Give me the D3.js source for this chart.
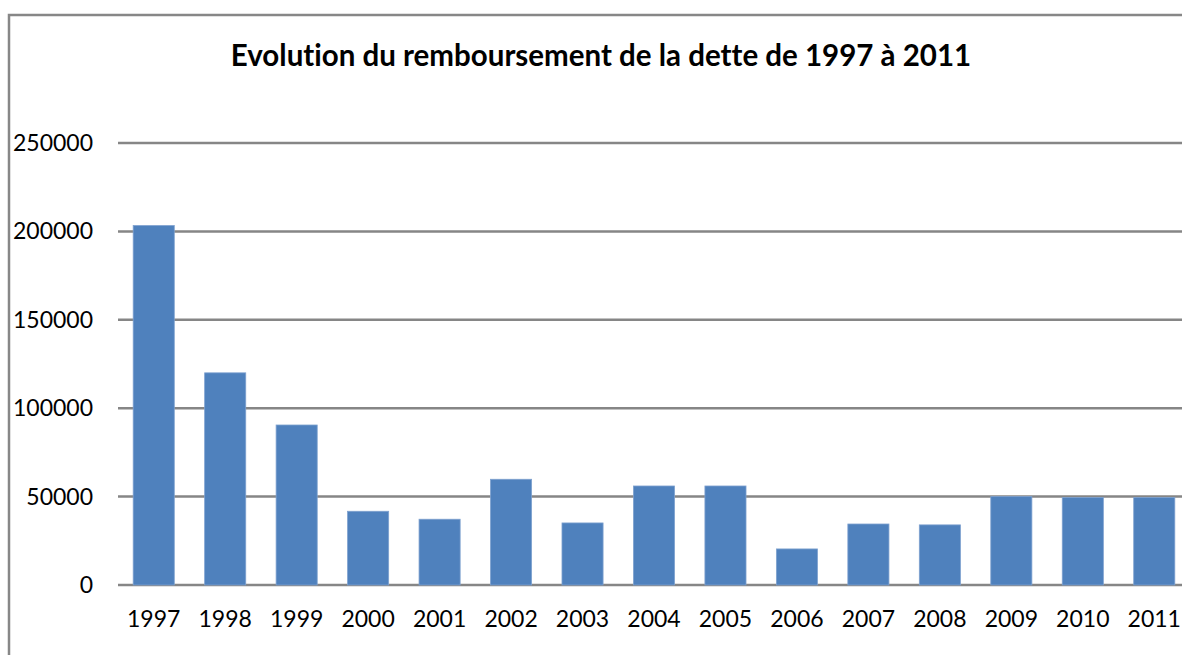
<!DOCTYPE html>
<html>
<head>
<meta charset="utf-8">
<script src="https://cdn.jsdelivr.net/npm/d3@7"></script>
<style>
  html, body { margin: 0; padding: 0; background: #fff; overflow: hidden; }
  svg { display: block; }
  text { font-variant-ligatures: none; }
</style>
</head>
<body>
<svg></svg>
<script>
const years = ['1997', '1998', '1999', '2000', '2001', '2002', '2003', '2004',
    '2005', '2006', '2007', '2008', '2009', '2010', '2011'];
const remboursement = [203300, 120000, 90500, 41700, 37200, 59800, 35100, 56000,
    56000, 20400, 34500, 34000, 50000, 49500, 49500];
const yTicks = [0, 50000, 100000, 150000, 200000, 250000];
const title = 'Evolution du remboursement de la dette de 1997 à 2011';

const width = 1182;
const height = 655;
const margin = { top: 143, right: -8, bottom: 70, left: 118 }; // plot runs past the right edge

const svg = d3.select('svg')
    .attr('width', width)
    .attr('height', height);

// chart frame (left and top edges only show)
svg.append('path')
    .attr('d', `M9,${height} V15 H${width}`)
    .attr('fill', 'none')
    .attr('stroke', '#878787')
    .attr('stroke-width', 2.5);

svg.append('text')
    .attr('x', 601)
    .attr('y', 66)
    .attr('text-anchor', 'middle')
    .attr('font-family', 'Lato, "Open Sans", sans-serif')
    .attr('font-weight', 'bold')
    .attr('font-size', '29.5px')
    .attr('fill', '#000')
    .text(title);

const x = d3.scaleBand()
    .domain(years)
    .range([margin.left, width - margin.right])
    .paddingInner(0.425)
    .paddingOuter(0.2125);

const y = d3.scaleLinear()
    .domain([0, 250000])
    .range([height - margin.bottom, margin.top]);

// gridlines
svg.append('g')
    .selectAll('line').data(yTicks)
    .enter().append('line')
    .attr('x1', margin.left)
    .attr('x2', width)
    .attr('y1', d => y(d))
    .attr('y2', d => y(d))
    .attr('stroke', '#868686')
    .attr('stroke-width', 2.5);

// y labels
svg.append('g')
    .selectAll('text').data(yTicks)
    .enter().append('text')
    .attr('x', 93)
    .attr('y', d => y(d))
    .attr('dy', '0.35em')
    .attr('text-anchor', 'end')
    .attr('font-family', 'Lato, "Open Sans", sans-serif')
    .attr('font-size', '23px')
    .attr('fill', '#000')
    .text(d => d);

// bars
svg.append('g')
    .selectAll('rect').data(remboursement)
    .enter().append('rect')
    .attr('x', (d, i) => x(years[i]))
    .attr('y', d => y(d))
    .attr('width', x.bandwidth())
    .attr('height', d => y(0) - y(d))
    .attr('fill', '#4f81bd')
    .attr('stroke', '#7ea1cf')
    .attr('stroke-width', 0.8);

// x labels
svg.append('g')
    .selectAll('text').data(years)
    .enter().append('text')
    .attr('x', d => x(d) + x.bandwidth() / 2)
    .attr('y', 627)
    .attr('text-anchor', 'middle')
    .attr('font-family', 'Lato, "Open Sans", sans-serif')
    .attr('font-size', '23px')
    .attr('fill', '#000')
    .text(d => d);
</script>
</body>
</html>
